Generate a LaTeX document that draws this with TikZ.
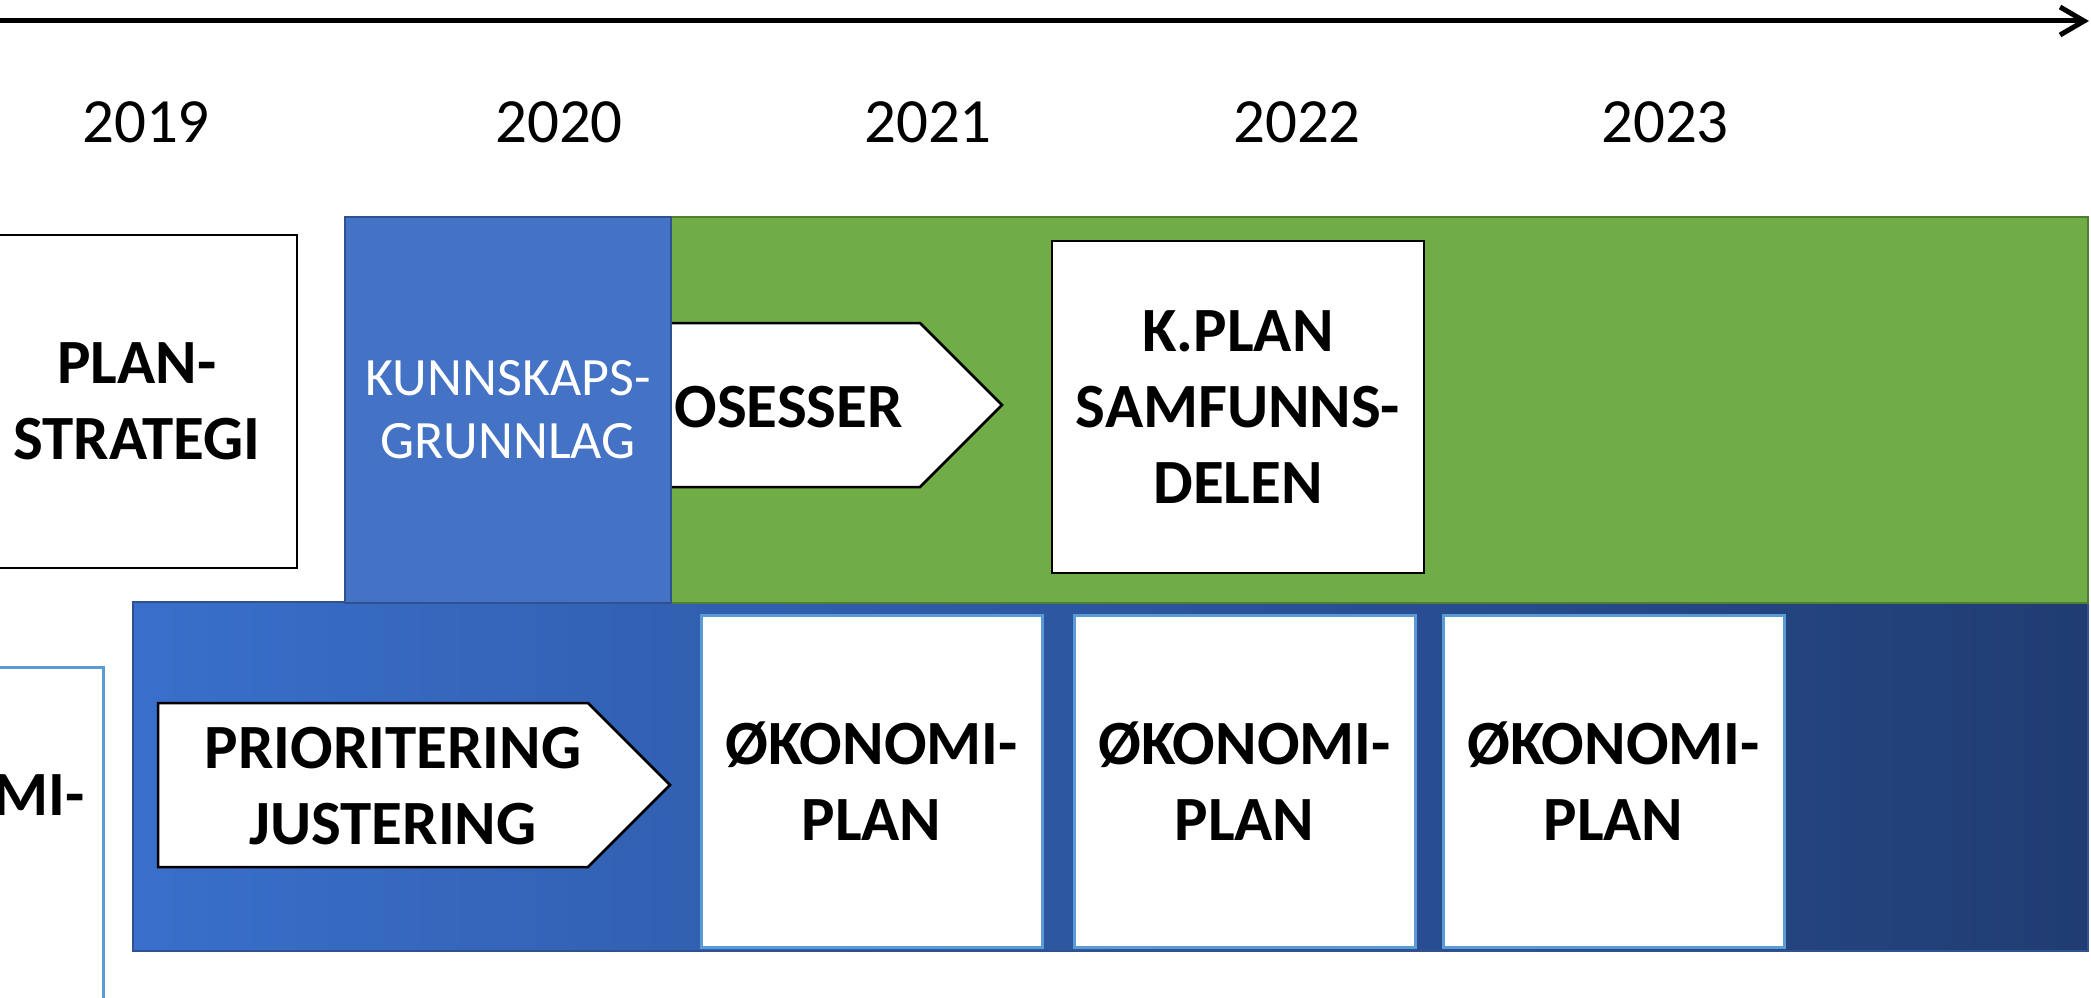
\documentclass[tikz,border=0pt]{standalone}
\usepackage{fontspec}
\setmainfont{Carlito}
\usetikzlibrary{arrows.meta}

\definecolor{kblue}{RGB}{68,114,196}
\definecolor{kblueedge}{RGB}{47,82,143}
\definecolor{pgreen}{RGB}{112,173,71}
\definecolor{pgreenedge}{RGB}{80,126,50}
\definecolor{bandleft}{RGB}{57,111,203}
\definecolor{bandright}{RGB}{32,60,114}
\definecolor{okoedge}{RGB}{91,155,213}

\tikzset{
  year/.style={anchor=base, font=\fontsize{63}{76}\selectfont},
  boldtext/.style={inner sep=0pt, align=center, font=\bfseries\fontsize{63}{76}\selectfont},
  plainbox/.style={boldtext, draw=black, fill=white, line width=2.5pt},
  okobox/.style={plainbox, draw=okoedge, line width=3pt, minimum width=341, minimum height=332},
  arrowbox/.style={fill=white, draw=black, line width=2.5pt},
}

\begin{document}
\begin{tikzpicture}[x=1pt, y=-1pt]
  \path[use as bounding box, clip] (0,0) rectangle (2091,998);

  % Time axis
  \coordinate (t0) at (0,21);
  \coordinate (t1) at (2089,21);
  \draw[line width=5pt, -{Straight Barb[length=24pt, width=28pt]}] (t0) -- (t1);

  % Years
  \foreach \yr/\x in {2019/146, 2020/559, 2021/928, 2022/1297, 2023/1665}
    \node[year] (y\yr) at (\x,142) {\yr};

  % Background bands
  \shade[left color=bandleft, right color=bandright] (133,602) rectangle (2088,951);
  \draw[kblueedge, line width=1.5pt] (133,602) rectangle (2088,951);
  \filldraw[fill=pgreen, draw=pgreenedge, line width=1.5pt] (671,217) rectangle (2088,603);

  % Process arrow, partly under the blue box
  \filldraw[arrowbox] (620,323) -- (920,323) -- (1002,405) -- (920,487) -- (620,487) -- cycle;
  \node[boldtext, anchor=base east] (prosess) at (903,427) {OSESSER};

  % Kunnskapsgrunnlag
  \node[fill=kblue, draw=kblueedge, line width=1.5pt, minimum width=326, minimum height=386,
        text=white, align=center, inner sep=0pt, font=\fontsize{54}{63}\selectfont]
    (kunnskap) at (508,410) {KUNNSKAPS-\\GRUNNLAG};

  % Plan boxes
  \node[plainbox, minimum width=320, minimum height=333] (planstrategi) at (137,401.5) {PLAN-\\STRATEGI};
  \node[plainbox, minimum width=372, minimum height=332] (kplan) at (1238,407) {K.PLAN\\SAMFUNNS-\\DELEN};

  % Priority arrow
  \filldraw[arrowbox] (158,703) -- (588,703) -- (670,785) -- (588,867) -- (158,867) -- cycle;
  \node[boldtext] (prioritering) at (393,786) {PRIORITERING\\JUSTERING};

  % Economy plans
  \foreach \i/\x in {1/871.5, 2/1244.5, 3/1613.5}
    \node[okobox] (oko\i) at (\x,781) {ØKONOMI-\\PLAN};

  % Cut-off box on the left
  \filldraw[fill=white, draw=okoedge, line width=3pt] (-237,667) rectangle (103,1010);
  \node[boldtext, anchor=base east] (okoleft) at (85,815) {MI-};
\end{tikzpicture}
\end{document}
